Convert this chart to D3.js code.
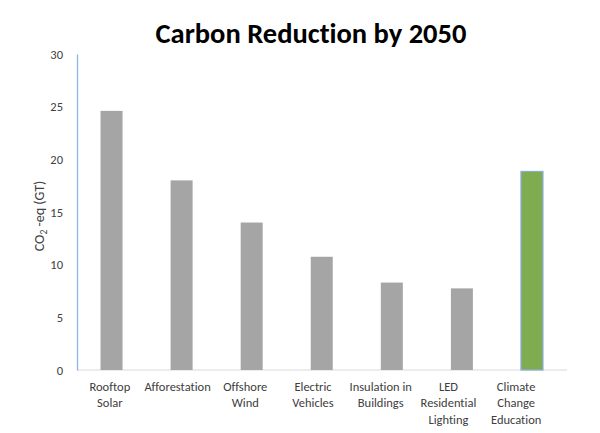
<!DOCTYPE html>
<html><head><meta charset="utf-8">
<script src="https://cdn.jsdelivr.net/npm/d3@7"></script>
<style>body{margin:0;background:#fff;} svg{display:block;} text{font-variant-ligatures:none;}</style>
</head><body>
<svg id="chart" width="600" height="433"></svg>
<script>
const categories = ["Rooftop Solar","Afforestation","Offshore Wind","Electric Vehicles","Insulation in Buildings","LED Residential Lighting","Climate Change Education"];
const labelLines = [["Rooftop","Solar"],["Afforestation"],["Offshore","Wind"],["Electric","Vehicles"],["Insulation in","Buildings"],["LED","Residential","Lighting"],["Climate","Change","Education"]];
const values = [24.6, 18.0, 14.0, 10.75, 8.3, 7.75, 18.85];
const highlight = "Climate Change Education";
const yTicks = [0,5,10,15,20,25,30];

const svg = d3.select("#chart");
const font = "Carlito, Calibri, 'Open Sans', sans-serif";

const y = d3.scaleLinear().domain([0,30]).range([370,54]);
const xBar = d3.scalePoint().domain(categories).range([76.5,567]).padding(0.5);
const xLab = d3.scaleBand().domain(categories).range([76,550]);
const barW = 22;

// title
svg.append("text").attr("x",311).attr("y",43).attr("text-anchor","middle")
  .style("font-family",font).style("font-weight","bold").style("font-size","28.5px")
  .attr("fill","#000").text("Carbon Reduction by 2050");

// baseline
svg.append("line").attr("x1",77).attr("x2",567).attr("y1",y(0)).attr("y2",y(0))
  .attr("stroke","#d9d9d9").attr("stroke-width",1.2);

// bars
svg.selectAll("rect.bar").data(categories).enter().append("rect")
  .attr("class","bar")
  .attr("x",d=>xBar(d)-barW/2).attr("width",barW)
  .attr("y",(d,i)=>y(values[i])).attr("height",(d,i)=>y(0)-y(values[i]))
  .attr("fill",d=>d===highlight?"#7fac50":"#a5a5a5")
  .attr("stroke",d=>d===highlight?"#8eaadb":"none")
  .attr("stroke-width",1.2);

// y axis
const yAxis = d3.axisLeft(y).tickValues(yTicks).tickSize(0).tickPadding(14);
const ga = svg.append("g").attr("transform","translate(77,0)").call(yAxis);
ga.select(".domain").attr("stroke","#8eb4e3").attr("stroke-width",1.3);
ga.selectAll("text").style("font-family",font).style("font-size","12.5px").attr("fill","#404040");

// y label
const yl = svg.append("text").attr("transform","translate(44,216) rotate(-90)")
  .attr("text-anchor","middle").style("font-family",font).style("font-size","14px").attr("fill","#404040");
yl.append("tspan").text("CO");
yl.append("tspan").attr("dy",3).style("font-size","9.5px").text("2");
yl.append("tspan").attr("dy",-3).text(" -eq (GT)");

// category labels
categories.forEach((c,i)=>{
  const t = svg.append("text").attr("text-anchor","middle")
    .attr("x",xLab(c)+xLab.bandwidth()/2).attr("y",391)
    .style("font-family",font).style("font-size","12.5px").attr("fill","#404040");
  labelLines[i].forEach((l,j)=>t.append("tspan").attr("x",xLab(c)+xLab.bandwidth()/2).attr("dy",j?16.3:0).text(l));
});
</script>
</body></html>
